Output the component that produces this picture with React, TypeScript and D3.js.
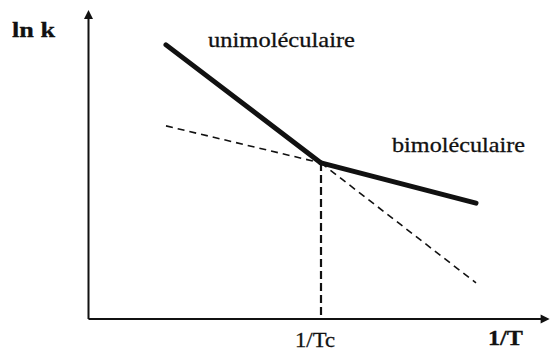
import React from 'react';
import * as d3 from 'd3';

// x in arbitrary 1/T units, y in arbitrary ln k units
const kinkX = 3;
const unimolX = [1, 3];
const unimolY = [8.73, 4.97];
const bimolX = [3, 5];
const bimolY = [4.97, 3.69];
const bimolExtX = [1, 3];
const bimolExtY = [6.15, 4.97];
const unimolExtX = [3, 5];
const unimolExtY = [4.97, 1.15];

const xAxisMax = 5.95;
const yAxisMax = 9.84;

const labels = {
  yAxis: 'ln k',
  xAxis: '1/T',
  kink: '1/Tc',
  unimol: 'unimoléculaire',
  bimol: 'bimoléculaire',
};

const width = 550;
const height = 354;
const textStyle = { fontFamily: "'Liberation Serif', 'Times New Roman', Times, serif" };

const App = () => {
  const xScale = d3.scaleLinear().domain([0, 6]).range([88.5, 553.5]);
  const yScale = d3.scaleLinear().domain([0, 10]).range([319, 5]);

  const line = d3.line<[number, number]>()
    .x(d => xScale(d[0]))
    .y(d => yScale(d[1]));

  const pts = (xs: number[], ys: number[]) => xs.map((x, i) => [x, ys[i]] as [number, number]);

  const x0 = xScale(0);
  const y0 = yScale(0);
  const xEnd = xScale(xAxisMax);
  const yEnd = yScale(yAxisMax);
  const kinkY = unimolY[1];

  return (
    <svg width={width} height={height} style={{ position: 'absolute', left: 0, top: 0, background: '#fff' }}>
      {/* axes */}
      <line x1={x0} y1={y0} x2={xEnd - 6} y2={y0} stroke="#111" strokeWidth={2} />
      <line x1={x0} y1={y0} x2={x0} y2={yEnd + 6} stroke="#111" strokeWidth={2} />
      <path d={`M${xEnd},${y0} L${xEnd - 9},${y0 - 4.5} L${xEnd - 9},${y0 + 4.5} Z`} fill="#111" />
      <path d={`M${x0},${yEnd} L${x0 - 4.5},${yEnd + 9} L${x0 + 4.5},${yEnd + 9} Z`} fill="#111" />

      {/* dashed extrapolations */}
      <path d={line(pts(bimolExtX, bimolExtY)) || ''} fill="none" stroke="#111" strokeWidth={1.6} strokeDasharray="7,5" />
      <path d={line(pts(unimolExtX, unimolExtY)) || ''} fill="none" stroke="#111" strokeWidth={1.6} strokeDasharray="7,5" />
      <path d={line([[kinkX, kinkY], [kinkX, 0]]) || ''} fill="none" stroke="#111" strokeWidth={2.2} strokeDasharray="8,4" />

      {/* solid regimes */}
      <path d={line(pts(unimolX, unimolY)) || ''} fill="none" stroke="#111" strokeWidth={5} strokeLinecap="round" />
      <path d={line(pts(bimolX, bimolY)) || ''} fill="none" stroke="#111" strokeWidth={5} strokeLinecap="round" />

      {/* labels */}
      <g style={textStyle} fill="#111" stroke="#111" strokeWidth={0.3} fontSize={22}>
        <text x={12} y={37} fontWeight="bold" textLength={43} lengthAdjust="spacingAndGlyphs">{labels.yAxis}</text>
        <text x={208} y={47} textLength={147} lengthAdjust="spacingAndGlyphs">{labels.unimol}</text>
        <text x={392} y={152} textLength={133} lengthAdjust="spacingAndGlyphs">{labels.bimol}</text>
        <text x={xScale(kinkX) - 26} y={347} textLength={40} lengthAdjust="spacingAndGlyphs">{labels.kink}</text>
        <text x={488} y={345} fontWeight="bold" textLength={35} lengthAdjust="spacingAndGlyphs">{labels.xAxis}</text>
      </g>
    </svg>
  );
};

export default App;
